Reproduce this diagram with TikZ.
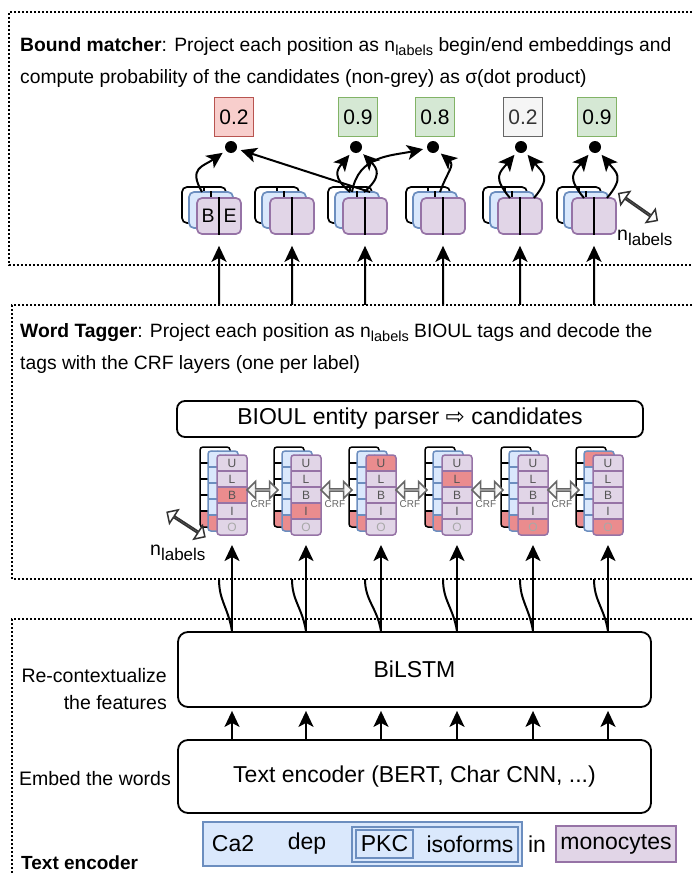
\documentclass[tikz,border=0pt]{standalone}
\usepackage{fontspec}
\setmainfont{Liberation Sans}
\newfontfamily\djv{DejaVu Sans}
\usetikzlibrary{arrows.meta,shapes.arrows,calc}
\definecolor{pfill}{HTML}{E1D5E7}
\definecolor{pdraw}{HTML}{9673A6}
\definecolor{bfill}{HTML}{DAE8FC}
\definecolor{bdraw}{HTML}{6C8EBF}
\definecolor{rfill}{HTML}{F8CECC}
\definecolor{rdraw}{HTML}{B85450}
\definecolor{gfill}{HTML}{D5E8D4}
\definecolor{gdraw}{HTML}{82B366}
\definecolor{greyfill}{HTML}{F5F5F5}
\definecolor{greydraw}{HTML}{666666}
\definecolor{greytext}{HTML}{333333}
\definecolor{redcell}{HTML}{EA8C8E}
\definecolor{lett}{HTML}{555555}
\definecolor{lettO}{HTML}{A8A8A8}
\newcommand{\nlab}[2]{n\raisebox{#2}{\fontsize{#1}{#1}\selectfont labels}}
% tag column: #1 left x, #2 top y, #3 fill, #4 draw, #5 red index, #6 name
\newcommand{\tagcol}[6]{%
  \node[inner sep=0pt,outer sep=0pt,minimum width=30pt,minimum height=80pt] (#6) at ({#1+15},{#2+40}) {};
  \begin{scope}
    \clip[rounded corners=3pt] (#1,#2) rectangle ++(30,80);
    \fill[#3] (#1,#2) rectangle ++(30,80);
    \fill[redcell] (#1,{#2+16*#5}) rectangle ++(30,16);
  \end{scope}
  \foreach \k in {1,2,3,4} \draw[#4,line width=1.4pt] (#1,{#2+16*\k}) -- ++(30,0);
  \foreach \L/\c [count=\k from 0] in {U/lett,L/lett,B/lett,I/lett,O/lettO}
    \node[font=\fontsize{12}{12}\selectfont,text=\c,inner sep=0pt] at ({#1+15},{#2+8+16*\k}) {\L};
  \draw[#4,line width=1.5pt,rounded corners=3pt] (#1,#2) rectangle ++(30,80);
}
% embedding group: #1 index, #2 cx
\newcommand{\embgrp}[2]{%
  \node[emb,fill=white,draw=black] (k#1) at ({#2-15},205) {};
  \draw[line width=1.7pt] (k#1.north) -- (k#1.south);
  \node[emb,fill=bfill,draw=bdraw] (b#1) at ({#2-8},210) {};
  \draw[line width=1.7pt] (b#1.north) -- (b#1.south);
  \node[emb,fill=pfill,draw=pdraw] (e#1) at (#2,216) {};
  \draw[line width=1.7pt] (e#1.north) -- (e#1.south);
}
\begin{document}
\begin{tikzpicture}[x=1pt,y=-1pt,
  arr/.style={line width=2pt,-{Stealth[length=16pt,width=15pt,inset=4pt]}},
  dotbox/.style={line width=1.5pt,dash pattern=on 2pt off 2pt},
  lbl/.style={inner sep=0pt,font=\fontsize{19.5}{23}\selectfont},
  ttl/.style={inner sep=0pt,anchor=base west,font=\fontsize{19.3}{23}\selectfont},
  big/.style={font=\fontsize{23}{27}\selectfont},
  score/.style={draw,minimum width=39pt,minimum height=39pt,inner sep=0pt,line width=1.7pt,font=\fontsize{21}{21}\selectfont},
  dotn/.style={circle,fill=black,minimum size=12pt,inner sep=0pt},
  emb/.style={rounded corners=5pt,minimum width=44pt,minimum height=36pt,inner sep=0pt,line width=1.7pt},
  dblarr/.style={double arrow,inner sep=0pt,line width=1.5pt,double arrow head extend=5.5pt},
  roundbox/.style={draw,line width=1.8pt,rounded corners=10pt,inner sep=0pt},
  word/.style={inner sep=0pt,font=\fontsize{23}{27}\selectfont},
  wbox/.style={line width=1.7pt,draw=bdraw,fill=bfill},
]
\useasboundingbox (0,0) rectangle (692,875);
\clip (0,0) rectangle (692,875);
\fill[white] (0,0) rectangle (692,875);

% x positions
\foreach \i/\px in {1/232,2/306,3/381,4/457,5/533,6/608} \coordinate (tx\i) at (\px,0);
\coordinate (wtbot) at (0,579);

% ---------- Bound matcher ----------
\draw[dotbox] (700,12) -- (9,12) -- (9,265) -- (700,265);
\node[ttl] (bmt1) at (20,52) {\textbf{Bound matcher}: Project each position as \nlab{14.5}{-4pt} begin/end embeddings and};
\node[ttl] (bmt2) at (20,84) {compute probability of the candidates (non-grey) as σ(dot product)};

\node[score,fill=rfill,draw=rdraw] (s1) at (234,117) {0.2};
\node[score,fill=gfill,draw=gdraw] (s2) at (358,117) {0.9};
\node[score,fill=gfill,draw=gdraw] (s3) at (435,117) {0.8};
\node[score,fill=greyfill,draw=greydraw,text=greytext] (s4) at (523,117) {0.2};
\node[score,fill=gfill,draw=gdraw] (s5) at (597,117) {0.9};

\node[dotn] (d1) at (231,147) {};
\node[dotn] (d2) at (356,147) {};
\node[dotn] (d3) at (433,147) {};
\node[dotn] (d4) at (521,147) {};
\node[dotn] (d5) at (595,147) {};

\foreach \i/\cx in {1/219,2/292,3/365,4/443,5/520,6/594} {\embgrp{\i}{\cx}}
\node[lbl] (lb) at (208,216) {B};
\node[lbl] (le) at (230,216) {E};

% arcs
\coordinate (a1) at (202,192);
\coordinate (a3l) at (350,192);
\coordinate (a3m) at (364,192);
\coordinate (a3b) at (352,192);
\coordinate (a3r) at (370,192);
\coordinate (a4) at (440,192);
\coordinate (a5l) at (510,198);
\coordinate (a5r) at (534,198);
\coordinate (a6l) at (584,198);
\coordinate (a6r) at (607,198);
\draw[arr,shorten >=4pt] (a1) to[out=120,in=215,looseness=1.5] (d1);
\draw[arr,shorten >=4pt] (a3r) -- (d1);
\draw[arr,shorten >=4pt] (a3l) to[out=140,in=230,looseness=1.5] (d2);
\draw[arr,shorten >=4pt] (a3m) to[out=40,in=-45,looseness=1.5] (d2);
\draw[arr,shorten >=4pt] (a3b) to[out=80,in=192,looseness=1.1] (d3);
\draw[arr,shorten >=4pt] (a4) to[out=70,in=-40,looseness=1.4] (d3);
\draw[arr,shorten >=4pt] (a5l) to[out=130,in=230,looseness=1.5] (d4);
\draw[arr,shorten >=4pt] (a5r) to[out=50,in=-50,looseness=1.5] (d4);
\draw[arr,shorten >=4pt] (a6l) to[out=130,in=230,looseness=1.5] (d5);
\draw[arr,shorten >=4pt] (a6r) to[out=50,in=-50,looseness=1.5] (d5);

\node[dblarr,draw=black!80,fill=white,rotate=-35,minimum height=47pt,minimum width=16pt] (nl1) at (638,207) {};
\node[inner sep=0pt,anchor=base west,font=\fontsize{19.5}{20}\selectfont] (nlt1) at (617,240) {\nlab{17}{-5pt}};

% ---------- Text encoder section (box) ----------
\draw[dotbox] (700,619) -- (12,619) -- (12,900);
\node[roundbox,minimum width=473pt,minimum height=75pt,big] (bilstm) at (414.5,669.5) {BiLSTM};
\node[roundbox,minimum width=473pt,minimum height=73pt,big] (textenc) at (414.5,776.5) {Text encoder (BERT, Char CNN, ...)};

% BiLSTM -> bound matcher (passing behind word tagger)
\foreach \i in {1,...,6} {
  \draw[arr,shorten >=11pt] (bilstm.north -| tx\i) .. controls +(-4,-24) and +(0,22) .. (e\i |- wtbot) -- (e\i.south);
}

% ---------- Word tagger ----------
\fill[white] (12,305) rectangle (700,579);
\draw[dotbox] (700,305) -- (12,305) -- (12,579) -- (700,579);
\node[ttl] (wtt1) at (20,337) {\textbf{Word Tagger}: Project each position as \nlab{14.5}{-4pt} BIOUL tags and decode the};
\node[ttl] (wtt2) at (20,369) {tags with the CRF layers (one per label)};

\node[roundbox,rounded corners=8pt,minimum width=466pt,minimum height=36pt,big] (parser) at (410,419) {BIOUL entity parser {\djv ⇨} candidates};

\foreach \i/\px/\r/\rb in {1/232/2/4,2/306/3/4,3/381/0/4,4/457/1/4,5/533/4/4,6/608/4/0} {
  \tagcol{\px-32}{447}{white}{black}{4}{tk\i}
  \tagcol{\px-24}{451}{bfill}{bdraw}{\rb}{tb\i}
  \tagcol{\px-15}{455}{pfill}{pdraw}{\r}{t\i}
}
\foreach \i/\px in {1/232,2/306,3/381,4/457,5/533} {
  \node[dblarr,draw=greydraw,fill=greyfill,minimum height=31pt,minimum width=17pt] (crf\i) at (\px+30.5,490) {};
  \node[inner sep=0pt,text=greydraw,font=\fontsize{10}{10}\selectfont] (crft\i) at (\px+29,504) {CRF};
}
\node[dblarr,draw=black!80,fill=white,rotate=-33,minimum height=45pt,minimum width=16pt] (nl2) at (186,524.5) {};
\node[inner sep=0pt,anchor=base west,font=\fontsize{19.5}{20}\selectfont] (nlt2) at (150,555) {\nlab{17}{-5pt}};

% BiLSTM -> tags
\foreach \i in {1,...,6} {
  \draw[arr,shorten >=10pt] (bilstm.north -| tx\i) -- (t\i.south);
  \draw[arr,shorten >=3pt] (textenc.north -| tx\i) -- (bilstm.south -| tx\i);
}

% side labels
\node[lbl,anchor=east] (rc1) at (167,676) {Re-contextualize};
\node[lbl,anchor=east] (rc2) at (167,703) {the features};
\node[lbl,anchor=east] (ew) at (171,779) {Embed the words};
\node[lbl,anchor=west,font=\bfseries\fontsize{19}{23}\selectfont] (tel) at (21,863) {Text encoder};

% sentence
\draw[wbox] (203,822) rectangle (522,866);
\draw[wbox] (352,827) rectangle (518,862);
\draw[wbox] (356,830) rectangle (413,858);
\draw[line width=1.7pt,draw=pdraw,fill=pfill] (556,826) rectangle (676,862);
\node[word] (w1) at (233,844) {Ca2};
\node[word] (w2) at (307,844) {dep};
\node[word] (w3) at (384.5,844) {PKC};
\node[word] (w4) at (470,844) {isoforms};
\node[word] (w5) at (537,844) {in};
\node[word] (w6) at (616,844) {monocytes};
\end{tikzpicture}
\end{document}
